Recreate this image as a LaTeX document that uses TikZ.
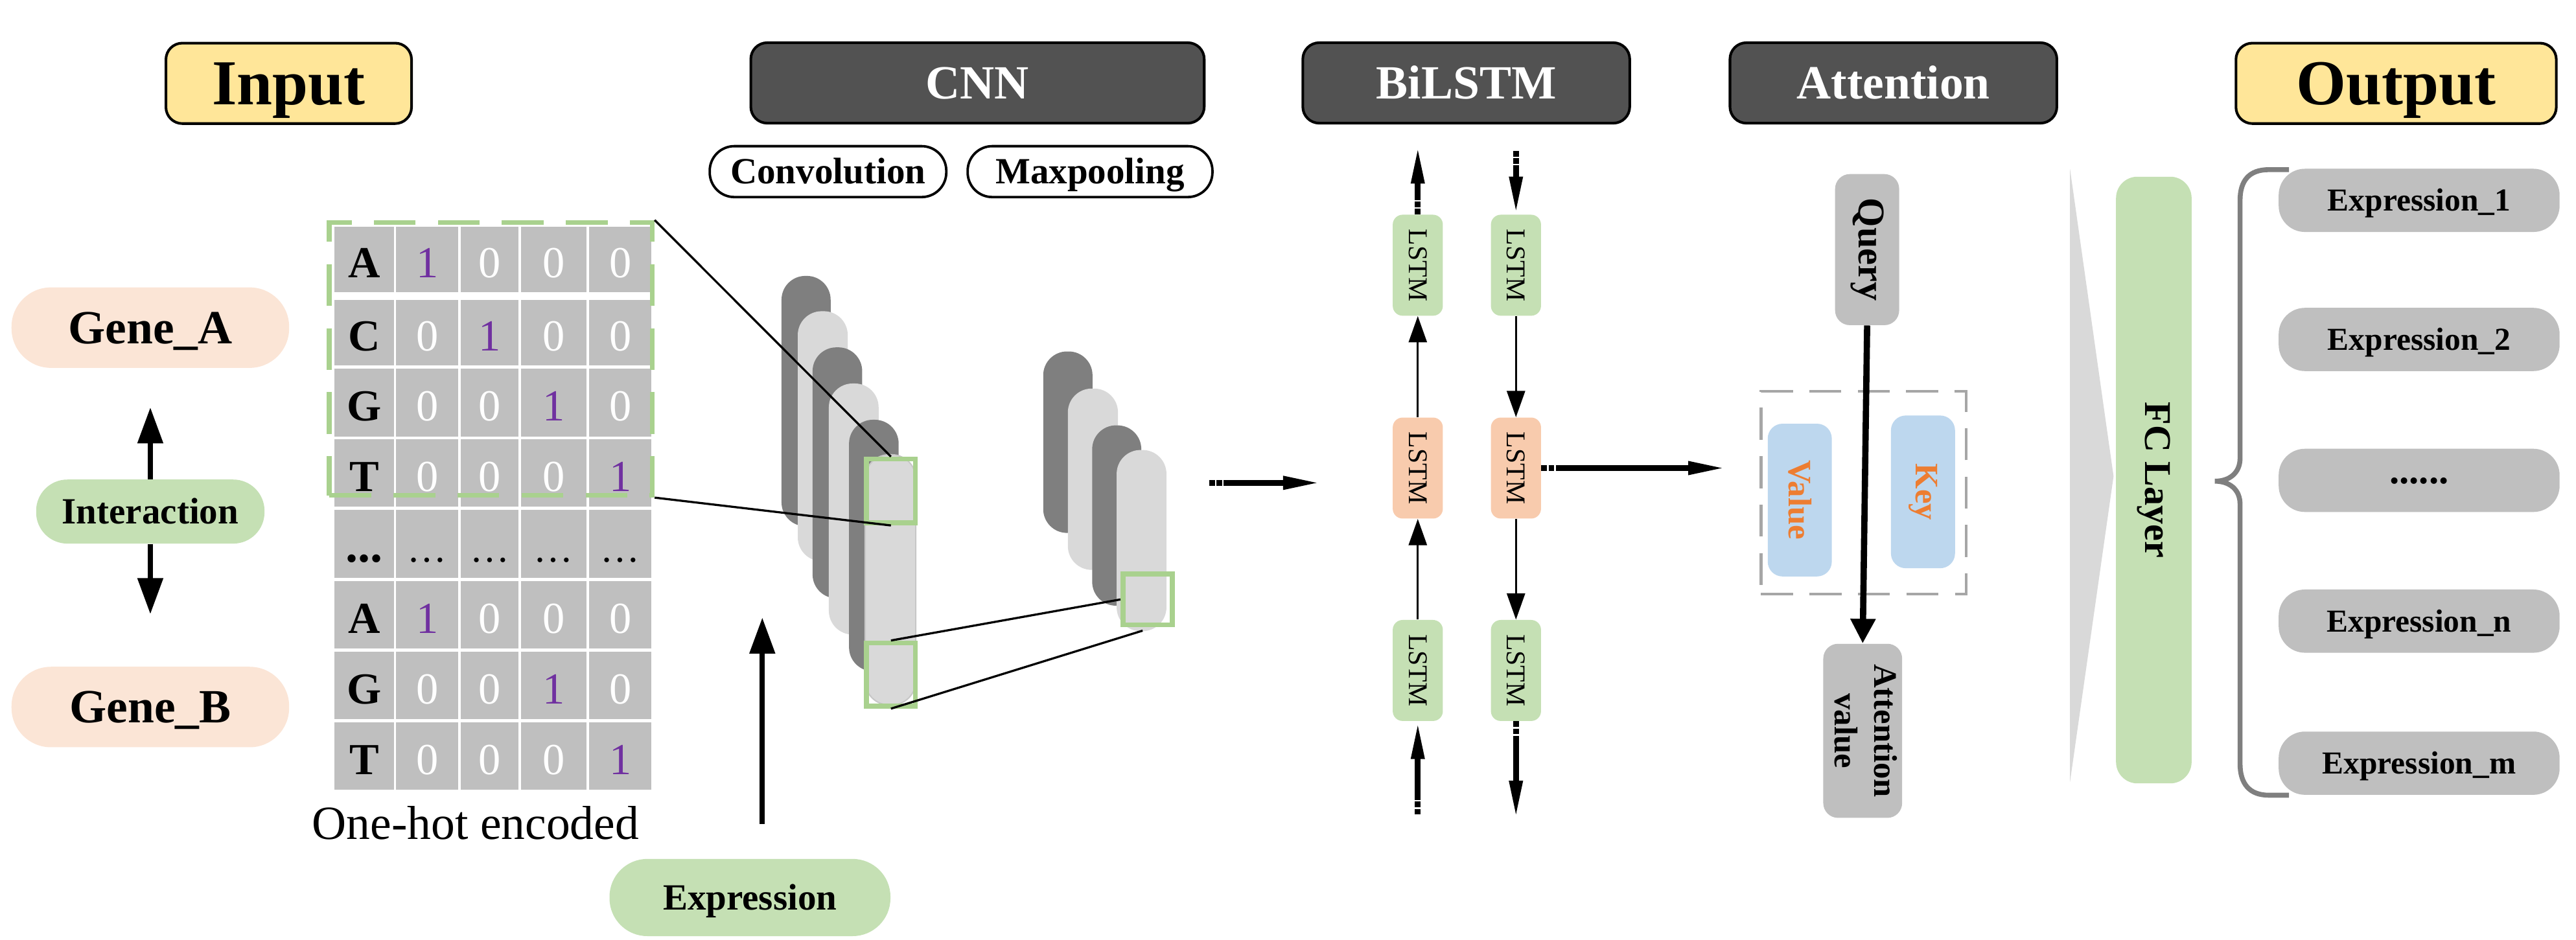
\documentclass[tikz,border=0pt]{standalone}
\usepackage{fontspec}
\usepackage{graphicx}
\setmainfont{Liberation Serif}
\usetikzlibrary{arrows.meta}
\definecolor{hdrdark}{HTML}{525252}
\definecolor{hdryellow}{HTML}{FFE699}
\definecolor{cellgray}{HTML}{BFBFBF}
\definecolor{numpurple}{HTML}{7030A0}
\definecolor{softgreen}{HTML}{C5E0B4}
\definecolor{greenline}{HTML}{A9D18E}
\definecolor{genepeach}{HTML}{FBE5D6}
\definecolor{lstmpeach}{HTML}{F8CBAD}
\definecolor{kvblue}{HTML}{BDD7EE}
\definecolor{kvorange}{HTML}{ED7D31}
\definecolor{cyldark}{HTML}{7F7F7F}
\definecolor{cyllight}{HTML}{D9D9D9}
\definecolor{dashgray}{HTML}{A6A6A6}
\newcommand\myfs[1]{\fontsize{#1}{#1}\selectfont}
\newcommand\dig[1]{\ifnum#1=1 \textcolor{numpurple}{1}\else\textcolor{white}{0}\fi}
\begin{document}
\begin{tikzpicture}[x=1pt,y=-1pt,
  hdr/.style={draw=black,line width=1.6pt,rounded corners=10pt,inner sep=0pt,minimum height=49pt,text depth=0pt},
  subpill/.style={draw=black,line width=1.5pt,fill=white,rounded corners=15pt,inner sep=0pt,minimum height=31pt,font=\bfseries\myfs{22.5},text height=14.9pt,text depth=0pt},
  cell/.style={fill=cellgray,inner sep=0pt,text height=22pt,text depth=0pt,font=\myfs{27}},
  sq/.style={draw=greenline,line width=3pt,inner sep=0pt,minimum width=29.6pt,minimum height=#1},
  lstmbox/.style={rounded corners=6pt,minimum width=30.5pt,minimum height=61.5pt,inner sep=0pt,font=\myfs{16.5}},
  outp/.style={fill=cellgray,rounded corners=16pt,minimum width=171pt,minimum height=38.5pt,inner sep=0pt,font=\bfseries\myfs{19.5},text height=12.9pt,text depth=0pt},
  arrlong/.style={line width=3.6pt,-{Triangle[length=23pt,width=7.5pt]},dash pattern=on 3.5pt off 0.9pt on 3.5pt off 0.9pt on 500pt off 1pt},
  arrG/.style={line width=3.3pt,-{Triangle[length=22pt,width=15pt]}},
  arrS/.style={line width=1.3pt,-{Triangle[length=16pt,width=11pt]}},
  arrQ/.style={line width=3.8pt,-{Triangle[length=15pt,width=14.5pt]}},
  thinline/.style={line width=1.3pt,black},
  cylD/.style={fill=cyldark,rounded corners=14.5pt},
  cylL/.style={fill=cyllight,rounded corners=14.5pt}
]
\useasboundingbox (0,0) rectangle (1568,572);

% ---------- headers ----------
\node[hdr,fill=hdryellow,minimum width=149.5pt,font=\bfseries\myfs{39},text height=25.8pt] (inp) at (175.75,50.75) {Input};
\node[hdr,fill=hdrdark,text=white,minimum width=276pt,font=\bfseries\myfs{29},text height=19.2pt] (cnn) at (595,50.5) {CNN};
\node[hdr,fill=hdrdark,text=white,minimum width=199pt,font=\bfseries\myfs{29},text height=19.2pt] (bil) at (892.5,50.5) {BiLSTM};
\node[hdr,fill=hdrdark,text=white,minimum width=199pt,font=\bfseries\myfs{29},text height=19.2pt] (att) at (1152.5,50.5) {Attention};
\node[hdr,fill=hdryellow,minimum width=195pt,font=\bfseries\myfs{39},text height=25.8pt] (outh) at (1458.5,50.75) {Output};

\node[subpill,minimum width=144pt] (conv) at (504,104.5) {Convolution};
\node[subpill,minimum width=149pt] (maxp) at (663.5,104.5) {Maxpooling};

% ---------- genes ----------
\node[fill=genepeach,rounded corners=24pt,minimum width=169pt,minimum height=49pt,inner sep=0pt,font=\bfseries\myfs{29},text height=19.2pt,text depth=0pt] (ga) at (91.5,199.5) {Gene\_A};
\node[fill=softgreen,rounded corners=19pt,minimum width=139pt,minimum height=39pt,inner sep=0pt,font=\bfseries\myfs{22.5},text height=14.9pt,text depth=0pt] (inter) at (91.5,311.5) {Interaction};
\node[fill=genepeach,rounded corners=24pt,minimum width=169pt,minimum height=49pt,inner sep=0pt,font=\bfseries\myfs{29},text height=19.2pt,text depth=0pt] (gb) at (91.5,430.5) {Gene\_B};
\coordinate (gaTip) at (91.5,248);
\coordinate (gbTip) at (91.5,374);
\draw[arrG] (inter.north) -- (gaTip);
\draw[arrG] (inter.south) -- (gbTip);

% ---------- one-hot grid ----------
\foreach \vr/\ya/\yb/\vL/\va/\vb/\vc/\vd in {0/138/178/A/1/0/0/0, 1/182.6/222.5/C/0/1/0/0, 2/224.4/266/G/0/0/1/0, 3/267.5/308.6/T/0/0/0/1, 5/354/395/A/1/0/0/0, 6/397/438/G/0/0/1/0, 7/440/481/T/0/0/0/1}{
  \node[cell,minimum width=36.5pt,minimum height=\yb pt-\ya pt,font=\bfseries\myfs{27}] (g\vr-0) at (221.75,{(\ya+\yb)/2}) {\vL};
  \node[cell,minimum width=38pt,minimum height=\yb pt-\ya pt] (g\vr-1) at (260,{(\ya+\yb)/2}) {\dig{\va}};
  \node[cell,minimum width=35pt,minimum height=\yb pt-\ya pt] (g\vr-2) at (298,{(\ya+\yb)/2}) {\dig{\vb}};
  \node[cell,minimum width=40pt,minimum height=\yb pt-\ya pt] (g\vr-3) at (337,{(\ya+\yb)/2}) {\dig{\vc}};
  \node[cell,minimum width=37.9pt,minimum height=\yb pt-\ya pt] (g\vr-4) at (377.55,{(\ya+\yb)/2}) {\dig{\vd}};
}
\node[cell,minimum width=36.5pt,minimum height=41.5pt,font=\bfseries\myfs{30}] (g4-0) at (221.75,331.25) {...};
\node[cell,minimum width=38pt,minimum height=41.5pt,font=\myfs{24}] (g4-1) at (260,331.25) {…};
\node[cell,minimum width=35pt,minimum height=41.5pt,font=\myfs{24}] (g4-2) at (298,331.25) {…};
\node[cell,minimum width=40pt,minimum height=41.5pt,font=\myfs{24}] (g4-3) at (337,331.25) {…};
\node[cell,minimum width=37.9pt,minimum height=41.5pt,font=\myfs{24}] (g4-4) at (377.55,331.25) {…};

\node[draw=greenline,line width=2.8pt,dash pattern=on 25.5pt off 13.5pt,inner sep=0pt,minimum width=196.7pt,minimum height=166.2pt] (sel) at (298.75,218.5) {};
\node[anchor=base,inner sep=0pt,font=\myfs{29}] (onehot) at (289.5,511) {One-hot encoded};

% ---------- expression ----------
\node[fill=softgreen,rounded corners=23pt,minimum width=171pt,minimum height=47pt,inner sep=0pt,font=\bfseries\myfs{22.5},text height=14.9pt,text depth=0pt] (expr) at (456.5,546.5) {Expression};
\coordinate (exTip) at (464,376);
\draw[arrG,shorten <=21pt] ([xshift=7.5pt]expr.north) -- (exTip);

% ---------- CNN cylinders ----------
\path[cylD] (475.7,168) rectangle (505.6,320.4);
\path[cylL] (485.6,189.5) rectangle (516,341.7);
\path[cylD] (494.6,211.5) rectangle (524.8,364.3);
\path[cylL] (504.5,233.5) rectangle (534.8,386.4);
\path[cylD] (516.8,255.6) rectangle (547,408.7);
\path[cylL,draw=black!22,line width=0.8pt] (526.6,276.9) rectangle (557.4,429.2);
\node[sq=38.9pt] (sqA) at (542.3,299) {};
\node[sq=38.5pt] (sqB) at (542.3,410.75) {};

\path[cylD] (635,214) rectangle (665,324.5);
\path[cylL] (650,236.6) rectangle (680.5,347);
\path[cylD] (664.8,259) rectangle (694.7,368.8);
\path[cylL] (679.7,274) rectangle (710,384.3);
\node[sq=31pt,minimum width=30pt] (sqC) at (698.5,365) {};
\coordinate (poolBot) at (695.5,384);

\draw[thinline] (sel.north east) -- (sqA.north);
\draw[thinline] (sel.south east) -- (sqA.south);
\draw[thinline] (sqB.north) -- (sqC.west);
\draw[thinline] (sqB.south) -- (poolBot);

\coordinate (cnnOut) at (736,294);
\coordinate (lstmIn) at (804,294);
\draw[arrlong] (cnnOut) -- (lstmIn);

% ---------- BiLSTM ----------
\node[lstmbox,fill=softgreen] (lt1) at (863,161.5) {\rotatebox{-90}{LSTM}};
\node[lstmbox,fill=lstmpeach] (lm1) at (863,285) {\rotatebox{-90}{LSTM}};
\node[lstmbox,fill=softgreen] (lb1) at (863,408.25) {\rotatebox{-90}{LSTM}};
\node[lstmbox,fill=softgreen] (lt2) at (922.75,161.5) {\rotatebox{-90}{LSTM}};
\node[lstmbox,fill=lstmpeach] (lm2) at (922.75,285) {\rotatebox{-90}{LSTM}};
\node[lstmbox,fill=softgreen] (lb2) at (922.75,408.25) {\rotatebox{-90}{LSTM}};
\coordinate (ltTop) at (863,88.8);
\coordinate (rtTop) at (922.75,91.8);
\coordinate (lbBot) at (863,496);
\coordinate (rbBot) at (922.75,498.4);
\draw[arrlong] (lt1.north) -- (ltTop);
\draw[arrlong] (rtTop) -- (lt2.north);
\draw[arrlong] (lbBot) -- (lb1.south);
\draw[arrlong] (lb2.south) -- (rbBot);
\draw[arrS] (lb1.north) -- (lm1.south);
\draw[arrS] (lm1.north) -- (lt1.south);
\draw[arrS] (lt2.south) -- (lm2.north);
\draw[arrS] (lm2.south) -- (lb2.north);
\coordinate (attIn) at (1050.6,285);
\draw[arrlong] (lm2.east) -- (attIn);

% ---------- Attention ----------
\node[draw=dashgray,line width=1.8pt,dash pattern=on 19.5pt off 10pt,inner sep=0pt,minimum width=124.9pt,minimum height=123.6pt] (kvbox) at (1134.35,300) {};
\node[fill=kvblue,rounded corners=9pt,minimum width=39pt,minimum height=93pt,inner sep=0pt,text=kvorange,font=\bfseries\myfs{20}] (val) at (1095.5,304.5) {\rotatebox{-90}{Value}};
\node[fill=kvblue,rounded corners=9pt,minimum width=39pt,minimum height=93pt,inner sep=0pt,text=kvorange,font=\bfseries\myfs{20}] (key) at (1170.5,299.5) {\rotatebox{-90}{Key}};
\node[fill=cellgray,rounded corners=9pt,minimum width=39pt,minimum height=92pt,inner sep=0pt,font=\bfseries\myfs{23}] (qry) at (1136.5,152) {\rotatebox{-90}{Query}};
\node[fill=cellgray,rounded corners=9pt,minimum width=44.4pt,minimum height=106pt,inner sep=0pt,font=\bfseries\fontsize{20}{24}\selectfont] (attv) at (1133.8,445) {\rotatebox{-90}{\begin{tabular}{@{}c@{}}Attention\\value\end{tabular}}};
\draw[arrQ] (qry.south) -- (attv.north);

% ---------- FC ----------
\fill[cyllight] (1260,103) -- (1286.5,290) -- (1260,476) -- cycle;
\node[fill=softgreen,rounded corners=13pt,minimum width=46pt,minimum height=369.4pt,inner sep=0pt,font=\bfseries\myfs{23}] (fc) at (1311,292.3) {\rotatebox{-90}{FC Layer}};

% ---------- Output ----------
\node[outp] (o1) at (1472.5,122) {Expression\_1};
\node[outp] (o2) at (1472.5,206.7) {Expression\_2};
\node[outp,text height=4pt,font=\bfseries\myfs{24}] (o3) at (1472.5,292.5) {......};
\node[outp] (o4) at (1472.5,378.2) {Expression\_n};
\node[outp] (o5) at (1472.5,464.7) {Expression\_m};
\draw[cyldark,line width=3pt] (1393.3,103.3) -- (1381,103.3) .. controls (1369,103.3) and (1363.5,110) .. (1363.5,122) -- (1363.5,279) .. controls (1363.5,288) and (1357,293) .. (1348.2,293) .. controls (1357,293) and (1363.5,298) .. (1363.5,307) -- (1363.5,465) .. controls (1363.5,477) and (1369,484.2) .. (1381,484.2) -- (1393.3,484.2);
\end{tikzpicture}
\end{document}
